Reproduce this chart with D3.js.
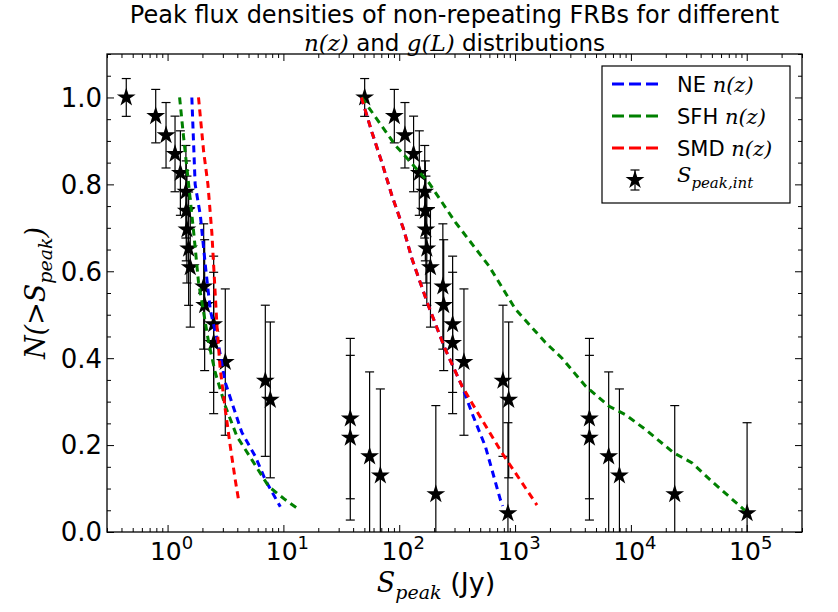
<!DOCTYPE html>
<html>
<head>
<meta charset="utf-8">
<script src="https://cdn.jsdelivr.net/npm/d3@7"></script>
<style>
  body { margin: 0; background: #fff; }
  svg text { font-family: "DejaVu Sans", sans-serif; fill: #000; }
  .math { font-family: "DejaVu Serif", serif; font-style: italic; }
</style>
</head>
<body>
<div id="chart"></div>
<script>
// cumulative fraction N(>S) of the 23 bursts, and its error
var nFrac = [1.000, 0.957, 0.913, 0.870, 0.826, 0.783, 0.739, 0.696, 0.652, 0.609, 0.565, 0.522,
  0.478, 0.435, 0.391, 0.348, 0.304, 0.261, 0.217, 0.174, 0.130, 0.087, 0.043];
var nErr = [0.0435, 0.0615, 0.0753, 0.0870, 0.0972, 0.1065, 0.1150, 0.1230, 0.1304, 0.1375, 0.1442, 0.1506,
  0.1568, 0.1627, 0.1684, 0.1739, 0.1793, 0.1845, 0.1895, 0.1944, 0.1992, 0.2039, 0.2085];

// peak flux densities (Jy), observed and intrinsic
var sPeakObs = [0.44, 0.79, 0.97, 1.16, 1.29, 1.44, 1.45, 1.47, 1.52, 1.57, 2.05, 2.09,
  2.50, 2.50, 3.15, 6.98, 7.71, 37.8, 37.8, 55.5, 68.7, 207, 868];
var sPeakInt = [50.3, 90.7, 112, 133, 149, 166, 168, 170, 173, 186, 238, 242,
  289, 289, 362, 786, 881, 4385, 4385, 6430, 7960, 23900, 100700];

// model curves, first g(L)
var neLeftS = [1.62, 1.73, 1.92, 2.12, 2.34, 2.76, 3.15, 3.59, 4.38, 5.72, 6.98, 9.40];
var neLeftN = [1.0, 0.80, 0.728, 0.613, 0.51, 0.428, 0.344, 0.298, 0.229, 0.174, 0.12, 0.058];
var sfhLeftS = [1.27, 1.37, 1.52, 1.68, 1.85, 2.05, 2.26, 2.58, 3.15, 3.97, 5.35, 7.45, 10.4, 13.1];
var sfhLeftN = [1.0, 0.913, 0.80, 0.69, 0.575, 0.505, 0.437, 0.367, 0.29, 0.22, 0.166, 0.105, 0.074, 0.055];
var smdLeftS = [1.85, 2.05, 2.23, 2.41, 2.50, 2.67, 2.85, 3.15, 3.48, 3.84, 4.10];
var smdLeftN = [1.0, 0.875, 0.80, 0.69, 0.613, 0.474, 0.374, 0.282, 0.197, 0.12, 0.074];

// model curves, second g(L)
var neRightS = [47.1, 58.1, 70.9, 86.5, 109, 129, 179, 250, 348, 424, 554, 747, 782];
var neRightN = [1.0, 0.92, 0.85, 0.774, 0.697, 0.628, 0.52, 0.42, 0.336, 0.274, 0.197, 0.074, 0.06];
var sfhRightS = [47.4, 92.5, 179, 305, 592, 1006, 1828, 2543, 4046, 6430, 8960, 13340, 23440, 33730, 50200, 96100];
var sfhRightN = [1.0, 0.89, 0.805, 0.713, 0.613, 0.513, 0.436, 0.40, 0.336, 0.29, 0.27, 0.236, 0.182, 0.159, 0.116, 0.05];
var smdRightS = [47.1, 58.1, 70.9, 86.5, 109, 129, 179, 250, 348, 424, 771, 1545];
var smdRightN = [1.0, 0.92, 0.85, 0.774, 0.697, 0.628, 0.52, 0.42, 0.336, 0.297, 0.182, 0.062];

var xMajor = [1, 10, 100, 1000, 10000, 100000],
  xMajorExp = ["0", "1", "2", "3", "4", "5"];
var yMajor = [0, 0.2, 0.4, 0.6, 0.8, 1.0],
  yMajorLabels = ["0.0", "0.2", "0.4", "0.6", "0.8", "1.0"];

var models = [
  {name: "NE", color: "#0000ff", left: [neLeftS, neLeftN], right: [neRightS, neRightN]},
  {name: "SFH", color: "#008000", left: [sfhLeftS, sfhLeftN], right: [sfhRightS, sfhRightN]},
  {name: "SMD", color: "#ff0000", left: [smdLeftS, smdLeftN], right: [smdRightS, smdRightN]}
];

var margin = {top: 54, right: 36, bottom: 80, left: 107},
  svg_dx = 838,
  svg_dy = 612,
  x0 = margin.left,
  x1 = svg_dx - margin.right,
  y0 = svg_dy - margin.bottom,
  y1 = margin.top;

var xScale = d3.scaleLog().domain([0.3, 3e5]).range([x0, x1]);
var yScale = d3.scaleLinear().domain([0, 1.1]).range([y0, y1]);

var svg = d3.select("#chart")
  .append("svg")
  .attr("width", svg_dx)
  .attr("height", svg_dy);

svg.append("defs").append("clipPath")
  .attr("id", "plotclip")
  .append("rect")
  .attr("x", x0).attr("y", y1)
  .attr("width", x1 - x0).attr("height", y0 - y1);

// ticks, all pointing inward, on all four sides
var xMinor = xScale.ticks().filter(function(v) {
  return xMajor.indexOf(v) < 0;
});
var yMinor = d3.range(0, 1.1001, 0.05).filter(function(v) {
  return Math.abs(v * 5 - Math.round(v * 5)) > 1e-6;
});

function addTicks(axis, values, size, tx, ty) {
  svg.append("g")
    .attr("class", "ticks")
    .attr("transform", "translate(" + tx + "," + ty + ")")
    .call(axis.tickValues(values).tickSize(-size).tickFormat(""))
    .call(function(g) { g.select(".domain").remove(); });
}
addTicks(d3.axisBottom(xScale), xMajor, 7, 0, y0);
addTicks(d3.axisBottom(xScale), xMinor, 4, 0, y0);
addTicks(d3.axisTop(xScale), xMajor, 7, 0, y1);
addTicks(d3.axisTop(xScale), xMinor, 4, 0, y1);
addTicks(d3.axisLeft(yScale), yMajor, 7, x0, 0);
addTicks(d3.axisLeft(yScale), yMinor, 4, x0, 0);
addTicks(d3.axisRight(yScale), yMajor, 7, x1, 0);
addTicks(d3.axisRight(yScale), yMinor, 4, x1, 0);
svg.selectAll(".ticks line").attr("stroke", "#000").attr("stroke-width", 1);

// tick labels
svg.append("g").selectAll("text")
  .data(yMajor)
  .enter()
  .append("text")
  .attr("x", x0 - 5)
  .attr("y", function(d) { return yScale(d); })
  .attr("dy", "0.36em")
  .attr("text-anchor", "end")
  .attr("font-size", 26)
  .text(function(d, i) { return yMajorLabels[i]; });

var xLab = svg.append("g").selectAll("text")
  .data(xMajor)
  .enter()
  .append("text")
  .attr("x", function(d) { return xScale(d) + 4; })
  .attr("y", y0 + 28)
  .attr("text-anchor", "middle")
  .attr("font-size", 25);
xLab.append("tspan").text("10");
xLab.append("tspan")
  .attr("dy", -11)
  .attr("font-size", 18)
  .text(function(d, i) { return xMajorExp[i]; });

var plot = svg.append("g").attr("clip-path", "url(#plotclip)");

// error bars and stars for both flux sets
function drawPoints(sVals) {
  var pts = sVals.map(function(s, i) {
    return {s: s, n: nFrac[i], e: nErr[i]};
  });
  var g = plot.append("g");
  g.selectAll("line.bar")
    .data(pts).enter().append("line")
    .attr("class", "bar")
    .attr("x1", function(d) { return xScale(d.s); })
    .attr("x2", function(d) { return xScale(d.s); })
    .attr("y1", function(d) { return yScale(d.n - d.e); })
    .attr("y2", function(d) { return yScale(d.n + d.e); });
  [-1, 1].forEach(function(sign) {
    g.selectAll("line.cap" + sign)
      .data(pts).enter().append("line")
      .attr("x1", function(d) { return xScale(d.s) - 4.5; })
      .attr("x2", function(d) { return xScale(d.s) + 4.5; })
      .attr("y1", function(d) { return yScale(d.n + sign * d.e); })
      .attr("y2", function(d) { return yScale(d.n + sign * d.e); });
  });
  g.selectAll("line").attr("stroke", "#000").attr("stroke-width", 1.2);
  g.selectAll("path.star")
    .data(pts).enter().append("path")
    .attr("class", "star")
    .attr("d", d3.symbol().type(d3.symbolStar).size(110))
    .attr("transform", function(d) {
      return "translate(" + xScale(d.s) + "," + yScale(d.n) + ")";
    })
    .attr("fill", "#000");
}
drawPoints(sPeakObs);
drawPoints(sPeakInt);

// model curves
var line = d3.line()
  .x(function(d) { return xScale(d[0]); })
  .y(function(d) { return yScale(d[1]); });

models.forEach(function(m) {
  [m.left, m.right].forEach(function(c) {
    plot.append("path")
      .datum(d3.zip(c[0], c[1]))
      .attr("d", line)
      .attr("fill", "none")
      .attr("stroke", m.color)
      .attr("stroke-width", 3)
      .attr("stroke-dasharray", "7,5");
  });
});

// frame
svg.append("rect")
  .attr("x", x0).attr("y", y1)
  .attr("width", x1 - x0).attr("height", y0 - y1)
  .attr("fill", "none")
  .attr("stroke", "#000")
  .attr("stroke-width", 1.3);

// legend
var legend = svg.append("g").attr("transform", "translate(602,66)");
legend.append("rect")
  .attr("width", 188).attr("height", 137)
  .attr("fill", "#fff").attr("stroke", "#000").attr("stroke-width", 1.2);

models.forEach(function(m, i) {
  var ly = 18 + i * 32;
  legend.append("line")
    .attr("x1", 10).attr("x2", 56)
    .attr("y1", ly).attr("y2", ly)
    .attr("stroke", m.color).attr("stroke-width", 3)
    .attr("stroke-dasharray", "12,5");
  var t = legend.append("text")
    .attr("x", 75).attr("y", ly).attr("dy", "0.36em")
    .attr("font-size", 21);
  t.append("tspan").text(m.name + " ");
  t.append("tspan").attr("class", "math").text("n(z)");
});

var sy = 18 + 3 * 32;
legend.append("line")
  .attr("x1", 33).attr("x2", 33).attr("y1", sy - 10).attr("y2", sy + 10)
  .attr("stroke", "#000").attr("stroke-width", 1.2);
[-10, 10].forEach(function(dy) {
  legend.append("line")
    .attr("x1", 28.5).attr("x2", 37.5).attr("y1", sy + dy).attr("y2", sy + dy)
    .attr("stroke", "#000").attr("stroke-width", 1.2);
});
legend.append("path")
  .attr("d", d3.symbol().type(d3.symbolStar).size(110))
  .attr("transform", "translate(33," + sy + ")")
  .attr("fill", "#000");
var st = legend.append("text")
  .attr("class", "math")
  .attr("x", 75).attr("y", sy + 2)
  .attr("font-size", 21);
st.append("tspan").text("S");
st.append("tspan").attr("dy", 6).attr("font-size", 15).text("peak,int");

// axis labels
var xl = svg.append("text")
  .attr("x", 436)
  .attr("y", 592)
  .attr("text-anchor", "middle")
  .attr("font-size", 27);
xl.append("tspan").attr("class", "math").text("S");
xl.append("tspan").attr("class", "math").attr("dy", 7).attr("font-size", 19).text("peak");
xl.append("tspan").attr("dy", -7).text(" (Jy)");

var yl = svg.append("text")
  .attr("transform", "translate(45," + ((y0 + y1) / 2) + ") rotate(-90)")
  .attr("text-anchor", "middle")
  .attr("class", "math")
  .attr("font-size", 27);
yl.append("tspan").text("N(>S");
yl.append("tspan").attr("dy", 7).attr("font-size", 19).text("peak");
yl.append("tspan").attr("dy", -7).text(")");

// title
svg.append("text")
  .attr("x", (x0 + x1) / 2).attr("y", 23)
  .attr("text-anchor", "middle")
  .attr("font-size", 24)
  .text("Peak flux densities of non-repeating FRBs for different");
var t2 = svg.append("text")
  .attr("x", (x0 + x1) / 2).attr("y", 51)
  .attr("text-anchor", "middle")
  .attr("font-size", 23);
t2.append("tspan").attr("class", "math").text("n(z)");
t2.append("tspan").text(" and ");
t2.append("tspan").attr("class", "math").text("g(L)");
t2.append("tspan").text(" distributions");
</script>
</body>
</html>
